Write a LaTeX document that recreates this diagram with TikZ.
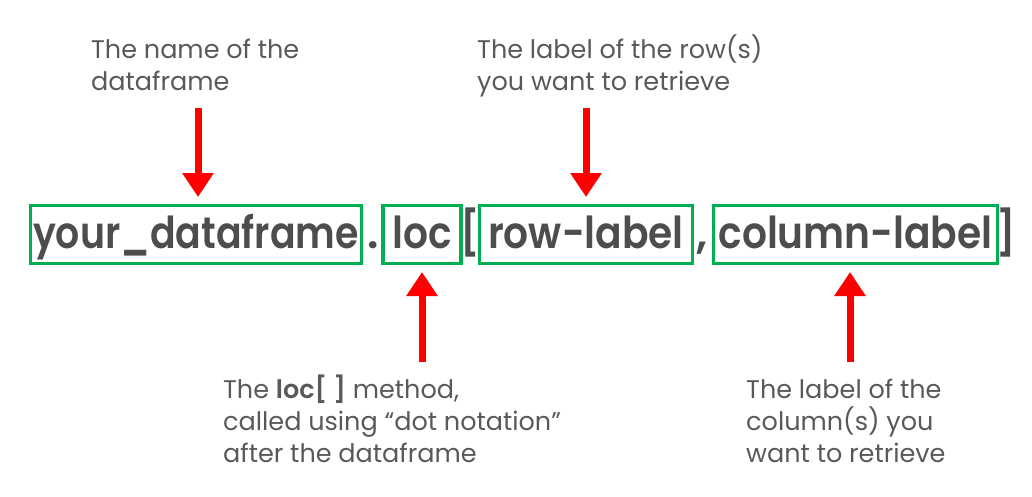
\documentclass[tikz,border=0pt]{standalone}
\usepackage{graphicx}
\usepackage{fontspec}
\setmainfont{Poppins}[BoldFont = {Poppins SemiBold}]
\usetikzlibrary{arrows.meta}
\definecolor{boxgreen}{HTML}{00B050}
\definecolor{codegray}{HTML}{4D4D4D}
\definecolor{notegray}{HTML}{595959}
\definecolor{arrowred}{HTML}{FF0000}
\newcommand{\squeezed}[2][0.89]{\scalebox{#1}[1]{#2}}
\tikzset{lbox/.style = {shape = rectangle,
                        draw = boxgreen,
                        line width = 3.2pt,
                        inner sep = 0pt,
                        minimum height = 58pt,
                        text height = 37pt,
                        text depth = 10pt,
                        text = codegray,
                        font = \fontsize{44}{48}\selectfont\bfseries},
         sep/.style = {anchor = base,
                       inner sep = 0pt,
                       text = codegray,
                       font = \fontsize{44}{48}\selectfont\bfseries},
         note/.style = {anchor = base west,
                        inner sep = 0pt,
                        align = left,
                        text = notegray,
                        font = \fontsize{25.5}{32}\selectfont},
         arr/.style = {draw = arrowred,
                       line width = 7pt,
                       -{Triangle[width = 30pt, length = 24pt]}}}

\begin{document}
\begin{tikzpicture}[x = 1pt, y = -1pt]
		\useasboundingbox (0,0) rectangle (1032,496);
		% boxes
		\node[lbox, minimum width = 331pt] (df) at (196,234.5) {\squeezed[0.86]{your\_dataframe}};
		\node[lbox, minimum width = 78pt] (loc) at (422,234.5) {\squeezed{loc}};
		\node[lbox, minimum width = 213pt] (row) at (586,234.5) {\squeezed{row-label}};
		\node[lbox, minimum width = 284pt] (col) at (855.5,234.5) {\squeezed{column-label}};
		\node[sep] (dot) at (373,248) {.};
		\node[sep] (lbr) at (470,248) {\squeezed{[}};
		\node[sep] (comma) at (702,248) {,};
		\node[sep] (rbr) at (1006,248) {\squeezed{]}};
		% notes (base is the last line)
		\node[note] (dfnote) at (91,90) {The name of the\\dataframe};
		\node[note] (rownote) at (477,90) {The label of the row(s)\\you want to retrieve};
		\node[note] (locnote) at (223,462) {The {\bfseries loc[ ]} method,\\called using “dot notation”\\after the dataframe};
		\node[note] (colnote) at (746,462) {The label of the\\column(s) you\\want to retrieve};
		% arrows
		\coordinate (dfa) at (198,108);
		\coordinate (dfb) at (198,197);
		\coordinate (rowa) at (586,108);
		\coordinate (rowb) at (586,197);
		\coordinate (loca) at (422,362);
		\coordinate (locb) at (422,272);
		\coordinate (cola) at (850,362);
		\coordinate (colb) at (850,272);
		\path[arr] (dfa) -- (dfb);
		\path[arr] (rowa) -- (rowb);
		\path[arr] (loca) -- (locb);
		\path[arr] (cola) -- (colb);
	\end{tikzpicture}
\end{document}
